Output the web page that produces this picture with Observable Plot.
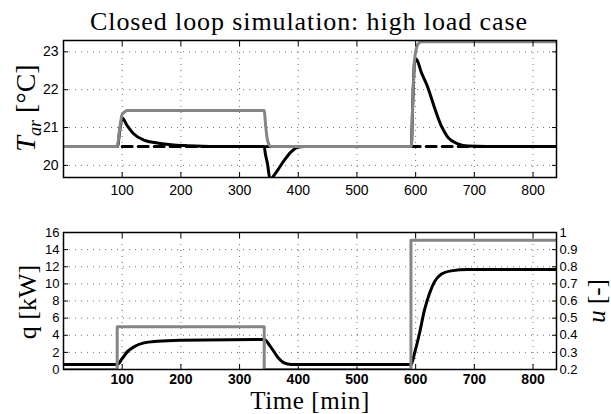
<!DOCTYPE html>
<html><head><meta charset="utf-8">
<script src="https://cdn.jsdelivr.net/npm/d3@7"></script>
<script src="https://cdn.jsdelivr.net/npm/@observablehq/plot@0.6"></script>
<style>
body{margin:0;background:#fff;}
#wrap{position:relative;width:611px;height:414px;overflow:hidden;background:#fff;}
.panel{position:absolute;left:0;}
.lbl{position:absolute;white-space:nowrap;font-family:"Liberation Serif",serif;line-height:1;color:#000;}
.rot{transform:translate(-50%,-50%) rotate(-90deg);}
</style></head><body>
<div id="wrap"></div>
<script>
// ---- data ----
const xTicks = [100, 200, 300, 400, 500, 600, 700, 800];
const tempTicks = [20, 21, 22, 23];
const qTicks = [0, 2, 4, 6, 8, 10, 12, 14, 16];
const uTickLabels = ["0.2", "0.3", "0.4", "0.5", "0.6", "0.7", "0.8", "0.9", "1"];

// top panel: room temperature [°C]
const refTime = [100, 840];
const refTemp = [20.5, 20.5];
const openTime = [0, 91.5, 96, 100, 105.7, 108.5, 341.8, 344.7, 347.6, 353, 592.5, 595.2, 598, 603.7, 609.4, 840];
const openTemp = [20.5, 20.5, 21.0, 21.35, 21.43, 21.45, 21.45, 21.01, 20.66, 20.5, 20.5, 21.71, 22.76, 23.2, 23.27, 23.27];
const closedTime = [0, 92, 96, 100, 108.5, 119.9, 137, 159.8, 188, 211, 260, 341.8, 344, 347.6, 352, 357, 364.7, 376, 387.4, 398.8, 410, 592.5, 595.2, 598, 601, 609.6, 620.8, 632, 643.5, 655, 672, 689, 720, 840];
const closedTemp = [20.5, 20.5, 20.95, 21.25, 21.05, 20.83, 20.67, 20.59, 20.54, 20.52, 20.5, 20.5, 20.3, 20.04, 19.62, 19.7, 19.87, 20.13, 20.35, 20.48, 20.5, 20.5, 21.7, 22.7, 22.81, 22.46, 22.06, 21.53, 21.05, 20.74, 20.57, 20.51, 20.5, 20.5];

// bottom panel: heat [kW]
const loadTime = [0, 91.5, 91.5, 342, 342, 592, 592, 840];
const loadQ = [0, 0, 5, 5, 0, 0, 15.1, 15.1];
const heatTime = [0, 91.5, 100, 108.5, 119.9, 137, 159.8, 199.6, 341.8, 353, 364.7, 376, 387.4, 592.5, 598, 606.5, 615, 623.6, 632, 643.5, 660.6, 689, 840];
const heatQ = [0.58, 0.58, 1.28, 2.06, 2.64, 3.11, 3.3, 3.42, 3.5, 2.64, 1.47, 0.77, 0.58, 0.58, 1.87, 4.2, 6.93, 8.88, 10.23, 11.13, 11.52, 11.68, 11.68];

// ---- drawing ----
const GRAY = "#858585";
const wrap = document.getElementById("wrap");
const gridStyle = {stroke: "black", strokeOpacity: 0.7, strokeWidth: 0.8, strokeDasharray: "1,5"};
const blank = () => "";

function inwardTicks(xt, yt) {
  return [
    Plot.axisX(xt, {anchor: "bottom", tickSize: -5, tickFormat: blank, label: null}),
    Plot.axisX(xt, {anchor: "top", tickSize: -5, tickFormat: blank, label: null}),
    Plot.axisY(yt, {anchor: "left", tickSize: -5, tickFormat: blank, label: null}),
    Plot.axisY(yt, {anchor: "right", tickSize: -5, tickFormat: blank, label: null})
  ];
}

const topPanel = Plot.plot({
  width: 611, height: 200,
  marginTop: 40, marginBottom: 23, marginLeft: 63, marginRight: 55,
  x: {domain: [0, 840]},
  y: {domain: [19.68, 23.3]},
  style: {fontFamily: "Liberation Sans, sans-serif", fontSize: "14px", color: "black", background: "transparent"},
  marks: [
    Plot.gridX(xTicks, gridStyle),
    Plot.gridY(tempTicks, gridStyle),
    Plot.line(refTime, {x: refTime, y: refTemp, stroke: "black", strokeWidth: 3, strokeDasharray: "10,6", clip: true}),
    Plot.line(closedTime, {x: closedTime, y: closedTemp, stroke: "black", strokeWidth: 3, curve: "monotone-x", clip: true}),
    Plot.line(openTime, {x: openTime, y: openTemp, stroke: GRAY, strokeWidth: 3, curve: "monotone-x", clip: true}),
    Plot.frame({stroke: "black", strokeWidth: 1.5}),
    ...inwardTicks(xTicks, tempTicks),
    Plot.axisX(xTicks, {anchor: "bottom", tickSize: 0, tickPadding: 8, label: null}),
    Plot.axisY(tempTicks, {anchor: "left", tickSize: 0, tickPadding: 5, label: null})
  ]
});
topPanel.classList.add("panel");
topPanel.style.top = "0px";
wrap.appendChild(topPanel);

const bottomPanel = Plot.plot({
  width: 611, height: 214,
  marginTop: 32, marginBottom: 45, marginLeft: 63, marginRight: 55,
  x: {domain: [0, 840]},
  y: {domain: [0, 16]},
  style: {fontFamily: "Liberation Sans, sans-serif", fontSize: "14px", color: "black", background: "transparent"},
  marks: [
    Plot.gridX(xTicks, gridStyle),
    Plot.gridY(qTicks.slice(1, -1), gridStyle),
    Plot.line(heatTime, {x: heatTime, y: heatQ, stroke: "black", strokeWidth: 3, curve: "monotone-x", clip: true}),
    Plot.line(loadTime, {x: loadTime, y: loadQ, stroke: GRAY, strokeWidth: 3, clip: true}),
    Plot.frame({stroke: "black", strokeWidth: 1.5}),
    ...inwardTicks(xTicks, qTicks),
    Plot.axisX(xTicks, {anchor: "bottom", tickSize: 0, tickPadding: 5, fontWeight: "bold", label: null}),
    Plot.axisY(qTicks, {anchor: "left", tickSize: 0, tickPadding: 4, fontSize: 13, label: null}),
    Plot.axisY(qTicks, {anchor: "right", tickSize: 0, tickPadding: 3, fontSize: 13, label: null,
      tickFormat: (d) => uTickLabels[qTicks.indexOf(d)]})
  ]
});
bottomPanel.classList.add("panel");
bottomPanel.style.top = "200px";
wrap.appendChild(bottomPanel);

function addLabel(html, x, y, size, rotate, extra) {
  const d = document.createElement("div");
  d.className = "lbl" + (rotate ? " rot" : "");
  d.innerHTML = html;
  d.style.left = x + "px";
  d.style.top = y + "px";
  d.style.fontSize = size + "px";
  if (!rotate) d.style.transform = "translate(-50%,-50%)";
  if (extra) Object.assign(d.style, extra);
  wrap.appendChild(d);
}
addLabel("Closed loop simulation: high load case", 309, 22, 26, false, {letterSpacing: "0.9px"});
addLabel("<i>T</i><sub style='font-size:0.65em'><i>ar</i></sub> [°C]", 28, 108, 28, true);
addLabel("q [kW]", 28, 302, 26, true);
addLabel("<i>u</i> [-]", 596, 301, 25, true);
addLabel("Time [min]", 310, 400, 25, false, {letterSpacing: "0.6px"});
</script>
</body></html>
